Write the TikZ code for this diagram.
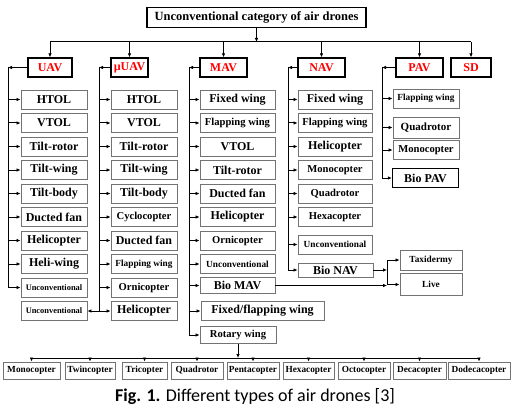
\documentclass[tikz,border=0pt]{standalone}
\usepackage{fontspec}
\setmainfont{Liberation Serif}
\newfontfamily\capfont{Carlito}
\usetikzlibrary{arrows.meta}
\newcommand{\fsbig}{\fontsize{12}{13}\selectfont}
\newcommand{\fsmid}{\fontsize{10.6}{12}\selectfont}
\newcommand{\fssml}{\fontsize{9.3}{10}\selectfont}
\newcommand{\fstny}{\fontsize{8.4}{9}\selectfont}

\begin{document}
\begin{tikzpicture}[x=1pt, y=-1pt,
    top/.style={draw, line width=1.3pt, font=\bfseries\fontsize{12.5}{14}\selectfont,
                minimum width=219pt, minimum height=20pt, inner sep=0pt},
    cat/.style={draw, line width=1.4pt, text=red, font=\bfseries\fsbig,
                minimum height=19pt, inner sep=0pt},
    box/.style={draw=black!55, line width=0.9pt, font=\bfseries\fsbig,
                minimum height=19pt, inner sep=0pt},
    ucol/.style={box, minimum width=66pt},
    acol/.style={box, minimum width=75pt},
    ncol/.style={box, minimum width=74pt},
    bcol/.style={box, minimum height=17pt, font=\bfseries\fssml},
    arrow/.style={-{Latex[length=4pt,width=3.6pt]}, line width=1pt},
    line/.style={line width=1pt}
  ]
    \useasboundingbox (0,0) rectangle (520,420);

    \node[top] (root) at (256.5,17.5) {Unconventional category of air drones};

    \node[cat, minimum width=44pt] (uav)  at (50,67.5)    {UAV};
    \node[cat, minimum width=37pt] (muav) at (129.5,67.5) {µUAV};
    \node[cat, minimum width=47pt] (mav)  at (223.5,67.5) {MAV};
    \node[cat, minimum width=47pt] (nav)  at (321.5,67.5) {NAV};
    \node[cat, minimum width=47pt] (pav)  at (419.5,67.5) {PAV};
    \node[cat, minimum width=40pt] (sd)   at (471,67.5)   {SD};

    % UAV
    \node[ucol] (u1)  at (54,99.5) {HTOL};
    \node[ucol] (u2)  at (54,123)  {VTOL};
    \node[ucol] (u3)  at (54,146.5) {Tilt-rotor};
    \node[ucol] (u4)  at (54,170)  {Tilt-wing};
    \node[ucol] (u5)  at (54,193.5) {Tilt-body};
    \node[ucol] (u6)  at (54,217)  {Ducted fan};
    \node[ucol] (u7)  at (54,240.5) {Helicopter};
    \node[ucol] (u8)  at (54,264)  {Heli-wing};
    \node[ucol, font=\bfseries\fstny] (u9)  at (54,287.5) {Unconventional};
    \node[ucol, font=\bfseries\fstny] (u10) at (54,311)  {Unconventional};

    % muUAV
    \node[ucol] (m1)  at (144,99.5) {HTOL};
    \node[ucol] (m2)  at (144,123)  {VTOL};
    \node[ucol] (m3)  at (144,146.5) {Tilt-rotor};
    \node[ucol] (m4)  at (144,170)  {Tilt-wing};
    \node[ucol] (m5)  at (144,193.5) {Tilt-body};
    \node[ucol, font=\bfseries\fsmid] (m6) at (144,217) {Cyclocopter};
    \node[ucol] (m7)  at (144,240.5) {Ducted fan};
    \node[ucol, font=\bfseries\fssml] (m8) at (144,264) {Flapping wing};
    \node[ucol, font=\bfseries\fsmid] (m9) at (144,287.5) {Ornicopter};
    \node[ucol] (m10) at (144,311)  {Helicopter};

    % MAV
    \node[acol] (a1) at (237.5,99.5) {Fixed wing};
    \node[acol, font=\bfseries\fsmid] (a2) at (237.5,123) {Flapping wing};
    \node[acol] (a3) at (237.5,146.5) {VTOL};
    \node[acol] (a4) at (237.5,170)  {Tilt-rotor};
    \node[acol] (a5) at (237.5,193.5) {Ducted fan};
    \node[acol] (a6) at (237.5,217)  {Helicopter};
    \node[acol, font=\bfseries\fsmid] (a7) at (237.5,240.5) {Ornicopter};
    \node[acol, font=\bfseries\fssml] (a8) at (237.5,264) {Unconventional};
    \node[acol, minimum height=16pt] (biomav) at (237.5,285.5) {Bio MAV};
    \node[box, minimum width=123pt] (fixflap) at (262.5,311) {Fixed/flapping wing};
    \node[box, minimum width=76pt, minimum height=17pt, font=\bfseries\fsmid] (rotary) at (238,335) {Rotary wing};

    % NAV
    \node[ncol] (n1) at (335,99.5) {Fixed wing};
    \node[ncol, font=\bfseries\fsmid] (n2) at (335,123)  {Flapping wing};
    \node[ncol] (n3) at (335,146.5) {Helicopter};
    \node[ncol, font=\bfseries\fsmid] (n4) at (335,170)  {Monocopter};
    \node[ncol, font=\bfseries\fsmid] (n5) at (335,193.5) {Quadrotor};
    \node[ncol, font=\bfseries\fsmid] (n6) at (335,217)  {Hexacopter};
    \node[ncol, font=\bfseries\fssml] (n7) at (335,244.5) {Unconventional};
    \node[box, minimum width=75pt, minimum height=14pt] (bionav) at (335.5,270) {Bio NAV};

    % PAV
    \node[ucol, font=\bfseries\fssml] (p1) at (426,98.5) {Flapping wing};
    \node[ucol, minimum height=21pt, font=\bfseries\fontsize{11}{12}\selectfont] (p2) at (426,127.5) {Quadrotor};
    \node[ucol, font=\bfseries\fsmid] (p3) at (426,150) {Monocopter};
    \node[ucol, draw=black, line width=1.4pt] (biopav) at (425.5,178) {Bio PAV};

    \node[box, minimum width=62pt, minimum height=20pt, font=\bfseries\fssml] (taxi) at (431,260) {Taxidermy};
    \node[box, minimum width=62pt, minimum height=22pt, font=\bfseries\fssml] (live) at (431,284.5) {Live};

    % rotary wing types
    \node[bcol, minimum width=57pt] (b1) at (31.5,370.5) {Monocopter};
    \node[bcol, minimum width=50pt] (b2) at (90,370.5)   {Twincopter};
    \node[bcol, minimum width=45pt] (b3) at (144.5,370.5) {Tricopter};
    \node[bcol, minimum width=52pt] (b4) at (197,370.5)  {Quadrotor};
    \node[bcol, minimum width=52pt] (b5) at (253,370.5)  {Pentacopter};
    \node[bcol, minimum width=51pt] (b6) at (308.5,370.5) {Hexacopter};
    \node[bcol, minimum width=52pt] (b7) at (364,370.5)  {Octocopter};
    \node[bcol, minimum width=53pt] (b8) at (419.5,370.5) {Decacopter};
    \node[bcol, minimum width=62pt] (b9) at (479,370.5)  {Dodecacopter};

    \node[font=\capfont\fontsize{18}{20}\selectfont] (cap) at (255,397)
      {\textbf{Fig. 1.} Different types of air drones [3]};

    % bus lines and spines
    \coordinate (bus)  at (0,42);
    \coordinate (bbus) at (0,358);
    \coordinate (su) at (8,0);
    \coordinate (sm) at (99,0);
    \coordinate (sa) at (189,0);
    \coordinate (sn) at (288,0);
    \coordinate (sp) at (382,0);
    \coordinate (jn) at (387,0);

    \draw[arrow] (root) -- (root |- bus);
    \draw[line]  (uav |- bus) -- (sd |- bus);
    \draw[arrow] (uav |- bus)  -- (uav);
    \draw[arrow] (muav |- bus) -- (muav);
    \draw[arrow] (mav |- bus)  -- (mav);
    \draw[arrow] (nav |- bus)  -- (nav);
    \draw[arrow] (pav |- bus)  -- (pav);
    \draw[arrow] (sd |- bus)   -- (sd);

    % UAV branch
    \draw[arrow] (uav.west) -- (uav.west -| su);
    \draw[arrow] (uav.west -| su) |- (u9);
    \draw[arrow] (u1 -| su) -- (u1);
    \draw[arrow] (u2 -| su) -- (u2);
    \draw[arrow] (u3 -| su) -- (u3);
    \draw[arrow] (u4 -| su) -- (u4);
    \draw[arrow] (u5 -| su) -- (u5);
    \draw[arrow] (u6 -| su) -- (u6);
    \draw[arrow] (u7 -| su) -- (u7);
    \draw[arrow] (u8 -| su) -- (u8);

    % muUAV branch
    \draw[arrow] (muav.west) -- (muav.west -| sm);
    \draw[line]  (muav.west -| sm) -- (m10 -| sm);
    \draw[arrow] (m1 -| sm) -- (m1);
    \draw[arrow] (m2 -| sm) -- (m2);
    \draw[arrow] (m3 -| sm) -- (m3);
    \draw[arrow] (m4 -| sm) -- (m4);
    \draw[arrow] (m5 -| sm) -- (m5);
    \draw[arrow] (m6 -| sm) -- (m6);
    \draw[arrow] (m7 -| sm) -- (m7);
    \draw[arrow] (m8 -| sm) -- (m8);
    \draw[arrow] (m9 -| sm) -- (m9);
    \draw[arrow] (m10 -| sm) -- (m10);
    \draw[arrow] (m10 -| sm) -- (u10);

    % MAV branch
    \draw[arrow] (mav.west) -- (mav.west -| sa);
    \draw[arrow] (mav.west -| sa) |- (rotary);
    \draw[arrow] (a1 -| sa) -- (a1);
    \draw[arrow] (a2 -| sa) -- (a2);
    \draw[arrow] (a3 -| sa) -- (a3);
    \draw[arrow] (a4 -| sa) -- (a4);
    \draw[arrow] (a5 -| sa) -- (a5);
    \draw[arrow] (a6 -| sa) -- (a6);
    \draw[arrow] (a7 -| sa) -- (a7);
    \draw[arrow] (a8 -| sa) -- (a8);
    \draw[arrow] (biomav -| sa) -- (biomav);
    \draw[arrow] (fixflap -| sa) -- (fixflap);

    % NAV branch
    \draw[arrow] (nav.west) -- (nav.west -| sn);
    \draw[arrow] (nav.west -| sn) |- (bionav);
    \draw[arrow] (n1 -| sn) -- (n1);
    \draw[arrow] (n2 -| sn) -- (n2);
    \draw[arrow] (n3 -| sn) -- (n3);
    \draw[arrow] (n4 -| sn) -- (n4);
    \draw[arrow] (n5 -| sn) -- (n5);
    \draw[arrow] (n6 -| sn) -- (n6);
    \draw[arrow] (n7 -| sn) -- (n7);

    % PAV branch
    \draw[arrow] (pav.west) -- (pav.west -| sp);
    \draw[arrow] (pav.west -| sp) |- (biopav);
    \draw[arrow] (p1 -| sp) -- (p1);
    \draw[arrow] (p2 -| sp) -- (p2);
    \draw[arrow] (p3 -| sp) -- (p3);

    % bio drones
    \draw[arrow] (bionav) -- (bionav -| jn);
    \draw[arrow] (biomav) -- (biomav -| jn);
    \draw[line]  (taxi -| jn) -- (live -| jn);
    \draw[arrow] (taxi -| jn) -- (taxi);
    \draw[arrow] (live -| jn) -- (live);

    % rotary wing types
    \draw[arrow] (rotary) -- (rotary |- bbus);
    \draw[line]  (b1 |- bbus) -- (b9 |- bbus);
    \draw[arrow] (b1 |- bbus) -- (b1);
    \draw[arrow] (b2 |- bbus) -- (b2);
    \draw[arrow] (b3 |- bbus) -- (b3);
    \draw[arrow] (b4 |- bbus) -- (b4);
    \draw[arrow] (b5 |- bbus) -- (b5);
    \draw[arrow] (b6 |- bbus) -- (b6);
    \draw[arrow] (b7 |- bbus) -- (b7);
    \draw[arrow] (b8 |- bbus) -- (b8);
    \draw[arrow] (b9 |- bbus) -- (b9);
  \end{tikzpicture}
\end{document}
